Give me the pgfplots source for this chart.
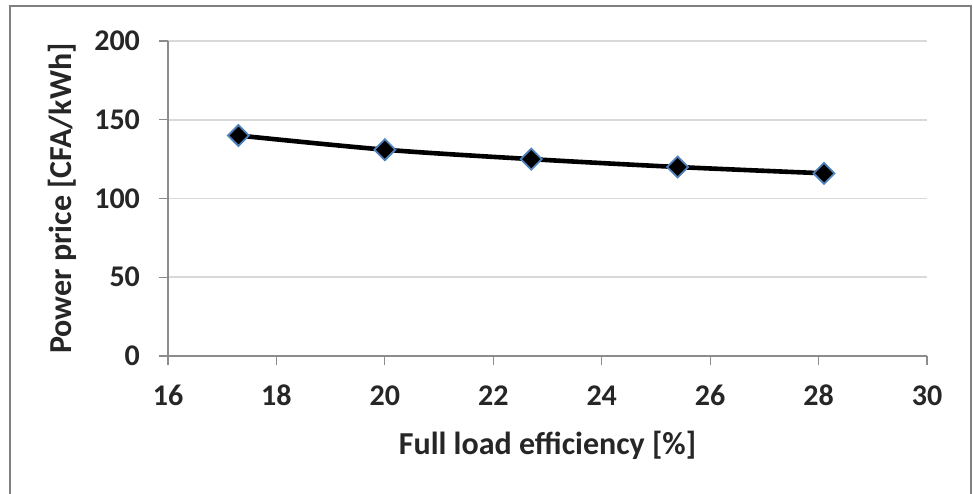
\documentclass[border=0pt]{standalone}
\usepackage{fontspec}
\setmainfont{Carlito}
\usepackage{pgfplots}
\pgfplotsset{compat=1.18}
\definecolor{gridc}{RGB}{217,217,217}
\definecolor{axc}{RGB}{140,140,140}
\definecolor{framec}{RGB}{128,128,128}
\definecolor{mblue}{RGB}{79,129,189}
\begin{document}
\begin{tikzpicture}
\begin{axis}[
  at={(0,0)}, anchor=south west,
  scale only axis,
  width=379.5pt, height=157.5pt,
  xmin=16, xmax=30, ymin=0, ymax=200,
  xtick={16,18,...,30}, ytick={0,50,...,200},
  axis x line*=bottom, axis y line*=left,
  axis line style={draw=axc, line width=0.6pt, -},
  ymajorgrids, grid style={draw=gridc, line width=0.9pt},
  tick style={draw=axc, line width=0.6pt},
  tick align=outside, major tick length=4.5pt,
  xtick pos=bottom, ytick pos=left,
  /pgf/number format/assume math mode=true,
  ticklabel style={font=\fontsize{15}{17}\selectfont\bfseries, text=black!85},
  xticklabel style={yshift=-9pt, text height=1.6ex, text depth=0pt},
  yticklabel style={xshift=-6pt},
  xlabel={Full load efficiency [\%]},
  ylabel={Power price [CFA/kWh]},
  label style={font=\fontsize{16}{18}\selectfont\bfseries, text=black!85},
  xlabel style={yshift=-6pt},
  ylabel style={yshift=2pt},
  clip=false,
]
\addplot[black, line width=2.3pt, smooth, mark=square*, mark size=3.7pt,
  mark options={rotate=45, fill=black, draw=mblue, line width=0.9pt}]
  coordinates {(17.3,140) (20,131) (22.7,125) (25.4,120) (28.1,116)};
\end{axis}
\draw[framec, line width=1pt] (-79pt,-80pt) -- (-79pt,175pt) -- (401.5pt,175pt) -- (401.5pt,-80pt);
\pgfresetboundingbox
\useasboundingbox (-84pt,-68.5pt) rectangle (402.5pt,178pt);
\end{tikzpicture}
\end{document}
